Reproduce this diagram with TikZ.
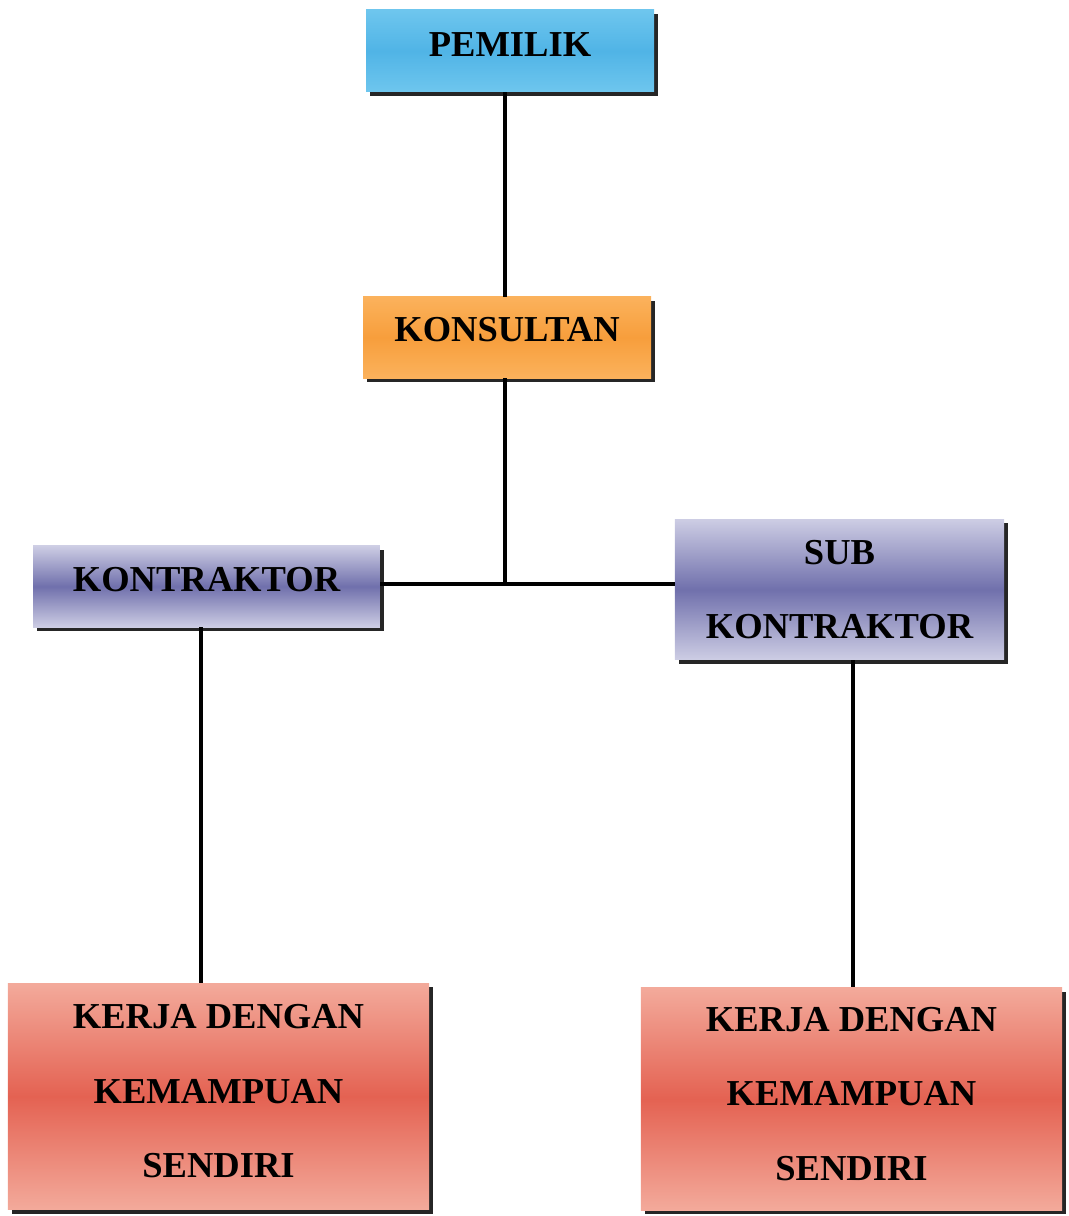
\documentclass[tikz,border=0pt]{standalone}
\usepackage{fontspec}
\setmainfont{Liberation Serif}
\usetikzlibrary{shadows,calc}
\definecolor{blueT}{RGB}{110,198,238}
\definecolor{blueM}{RGB}{80,180,230}
\definecolor{orT}{RGB}{251,178,92}
\definecolor{orM}{RGB}{247,158,60}
\definecolor{lavT}{RGB}{205,205,228}
\definecolor{lavM}{RGB}{112,112,172}
\definecolor{redT}{RGB}{243,170,155}
\definecolor{redM}{RGB}{228,98,82}
\tikzset{
  orgbox/.style={draw=none, inner sep=0pt, align=center,
    font=\fontsize{27.4}{56}\selectfont\bfseries,
    drop shadow={shadow xshift=3pt, shadow yshift=-3pt, fill=black!85, opacity=1}},
  bluebox/.style={orgbox, top color=blueT, bottom color=blueT, middle color=blueM},
  orbox/.style={orgbox, top color=orT, bottom color=orT, middle color=orM},
  lavbox/.style={orgbox, top color=lavT, bottom color=lavT, middle color=lavM},
  redbox/.style={orgbox, top color=redT, bottom color=redT, middle color=redM},
  conn/.style={line width=3pt, black}
}
\begin{document}
\begin{tikzpicture}[x=0.75pt, y=-0.75pt]
\useasboundingbox (0,0) rectangle (1068,1216);
\node[bluebox, minimum width=216pt, minimum height=61.5pt, text depth=9pt] (pem) at (510,51) {PEMILIK};
\node[orbox, minimum width=216pt, minimum height=61pt, text depth=12pt] (kons) at (507,337.5) {KONSULTAN};
\node[lavbox, minimum width=260pt, minimum height=61pt, text depth=11pt] (kon) at (206.5,586.5) {KONTRAKTOR};
\node[lavbox, minimum width=247pt, minimum height=105.5pt] (sub) at (839.5,589.5) {SUB\\[-0.3pt]KONTRAKTOR};
\node[redbox, minimum width=316pt, minimum height=170pt, text depth=8pt] (kerL) at (218.5,1096.5) {KERJA DENGAN\\KEMAMPUAN\\SENDIRI};
\node[redbox, minimum width=316pt, minimum height=167pt, text depth=8pt] (kerR) at (851.5,1099) {KERJA DENGAN\\KEMAMPUAN\\SENDIRI};
\coordinate (j) at (505,584);
\coordinate (lx) at (201,0);
\coordinate (rx) at (853,0);
\draw[conn] (pem.south -| j) -- (kons.north -| j);
\draw[conn] (kons.south -| j) -- (j);
\draw[conn] (kon.east |- j) -- (sub.west |- j);
\draw[conn] (kon.south -| lx) -- (kerL.north -| lx);
\draw[conn] (sub.south -| rx) -- (kerR.north -| rx);
\end{tikzpicture}
\end{document}
